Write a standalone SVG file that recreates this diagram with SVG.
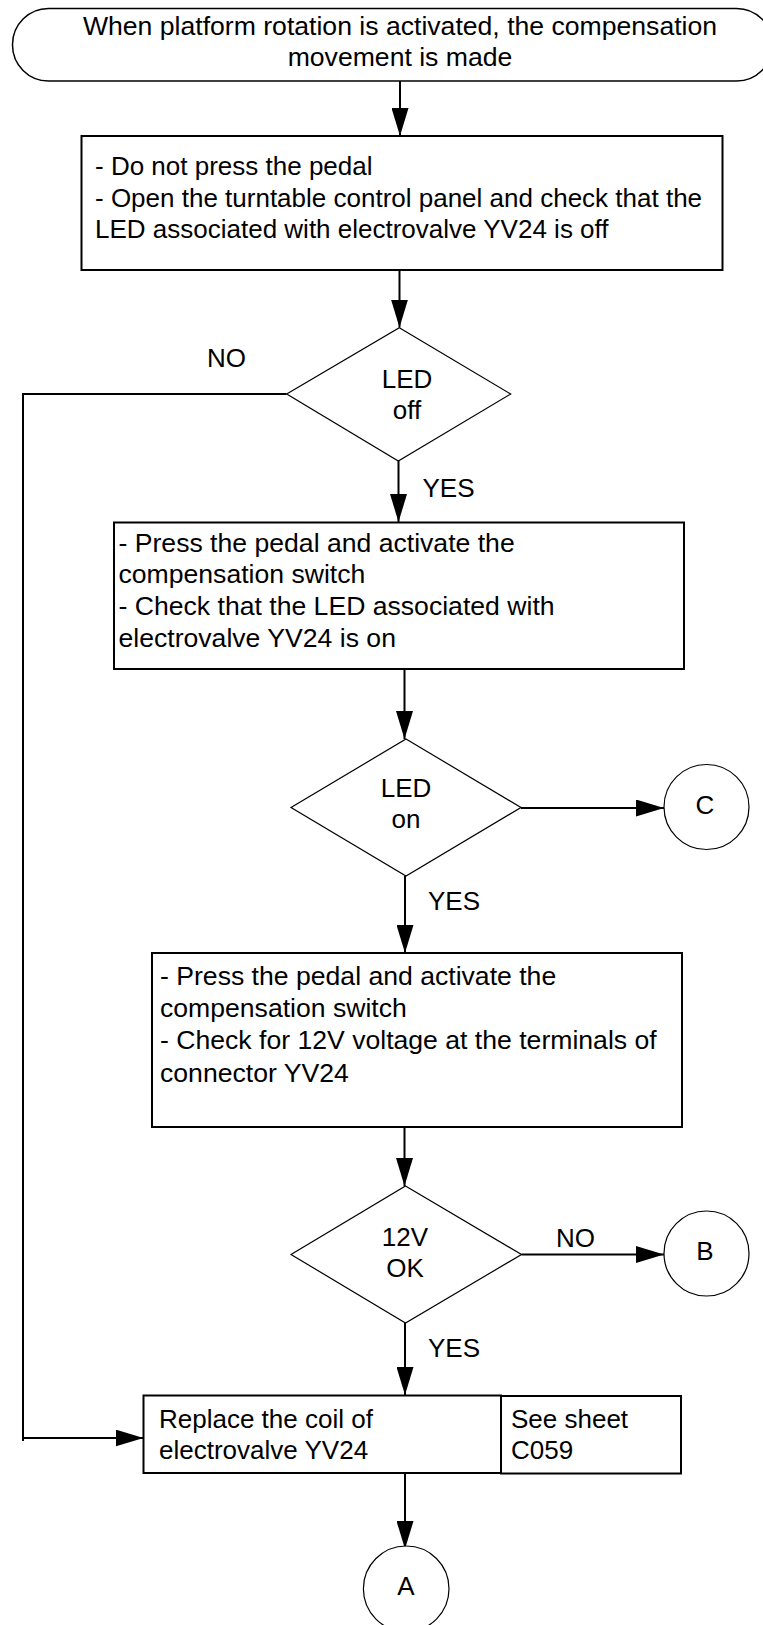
<svg xmlns="http://www.w3.org/2000/svg" width="763" height="1625" viewBox="0 0 763 1625">
<style>
  text { font-family: "Liberation Sans", Arial, sans-serif; font-size: 26px; fill: #000; }
  .c { text-anchor: middle; }
  .big { font-size: 26.6px; }
  .box { fill: #fff; stroke: #000; stroke-width: 2; }
  .thin { fill: #fff; stroke: #000; stroke-width: 1.2; }
  .term { fill: #fff; stroke: #000; stroke-width: 1.5; }
  .wire { fill: none; stroke: #000; stroke-width: 2; }
  .arrow { fill: none; stroke: #000; stroke-width: 2; marker-end: url(#ah); }
</style>
<defs>
  <marker id="ah" markerUnits="userSpaceOnUse" markerWidth="28" markerHeight="17" refX="28" refY="8.5" orient="auto">
    <path d="M0,0 L28,8.5 L0,17 z" fill="#000"/>
  </marker>
</defs>
<rect width="763" height="1625" fill="#fff"/>

<g id="connectors">
  <line class="arrow" x1="400" y1="81" x2="400" y2="136"/>
  <line class="arrow" x1="399.5" y1="270" x2="399.5" y2="327.5"/>
  <line class="arrow" x1="398.5" y1="461" x2="398.5" y2="522"/>
  <line class="arrow" x1="404.5" y1="669" x2="404.5" y2="739"/>
  <line class="arrow" x1="405" y1="876" x2="405" y2="953"/>
  <line class="arrow" x1="404.5" y1="1127" x2="404.5" y2="1186"/>
  <line class="arrow" x1="405" y1="1323" x2="405" y2="1395"/>
  <line class="arrow" x1="405" y1="1474" x2="405" y2="1549"/>
  <line class="arrow" x1="521" y1="808" x2="664" y2="808"/>
  <line class="arrow" x1="521.5" y1="1254.5" x2="664" y2="1254.5"/>
  <polyline class="wire" points="286.5,394 23,394 23,1441"/>
  <line class="arrow" x1="23" y1="1438" x2="143.5" y2="1438"/>
  <text x="207" y="367">NO</text>
  <text x="422.5" y="497">YES</text>
  <text x="428" y="910">YES</text>
  <text x="556" y="1246.5">NO</text>
  <text x="428" y="1356.5">YES</text>
</g>

<g id="start">
  <rect class="term" x="12.5" y="8.5" width="760" height="72.5" rx="36" ry="36"/>
  <text class="c big" x="400" y="34.5">When platform rotation is activated, the compensation</text>
  <text class="c big" x="400" y="65.5">movement is made</text>
</g>

<g id="step1">
  <rect class="box" x="81.5" y="136" width="641" height="134"/>
  <text x="95" y="175">- Do not press the pedal</text>
  <text x="95" y="206.5">- Open the turntable control panel and check that the</text>
  <text x="95" y="237.5">LED associated with electrovalve YV24 is off</text>
</g>

<g id="dec1">
  <polygon class="thin" points="399.3,327.7 510.7,394 398.3,461 286.7,394"/>
  <text class="c" x="407" y="387.5">LED</text>
  <text class="c" x="407" y="419">off</text>
</g>

<g id="step2">
  <rect class="box" x="114" y="522.5" width="570" height="146.5"/>
  <text class="big" x="118.5" y="551.5">- Press the pedal and activate the</text>
  <text class="big" x="118.5" y="583">compensation switch</text>
  <text class="big" x="118.5" y="615">- Check that the LED associated with</text>
  <text class="big" x="118.5" y="647">electrovalve YV24 is on</text>
</g>

<g id="dec2">
  <polygon class="thin" points="406,739 521,807.5 406,876 291,807.5"/>
  <text class="c" x="406" y="797">LED</text>
  <text class="c" x="406" y="828">on</text>
</g>

<g id="conC">
  <circle class="thin" cx="706.5" cy="807" r="42.5"/>
  <text class="c" x="705" y="814">C</text>
</g>

<g id="step3">
  <rect class="box" x="152" y="953" width="530" height="174"/>
  <text class="big" x="160" y="985">- Press the pedal and activate the</text>
  <text class="big" x="160" y="1017">compensation switch</text>
  <text class="big" x="160" y="1049">- Check for 12V voltage at the terminals of</text>
  <text class="big" x="160" y="1081.5">connector YV24</text>
</g>

<g id="dec3">
  <polygon class="thin" points="405.5,1186 521.5,1254.5 405.5,1323 291,1254.5"/>
  <text class="c" x="405" y="1245.5">12V</text>
  <text class="c" x="405" y="1276.5">OK</text>
</g>

<g id="conB">
  <circle class="thin" cx="706.5" cy="1253.5" r="42.5"/>
  <text class="c" x="705" y="1260">B</text>
</g>

<g id="step4">
  <rect class="box" x="143.5" y="1395.5" width="357.5" height="77.5"/>
  <text x="159" y="1428">Replace the coil of</text>
  <text x="159" y="1459">electrovalve YV24</text>
</g>

<g id="note4">
  <rect class="box" x="501" y="1396" width="180" height="77.5"/>
  <text x="511" y="1428">See sheet</text>
  <text x="511" y="1459">C059</text>
</g>

<g id="conA">
  <circle class="thin" cx="406.2" cy="1588.8" r="42.8"/>
  <text class="c" x="406" y="1595">A</text>
</g>
</svg>
